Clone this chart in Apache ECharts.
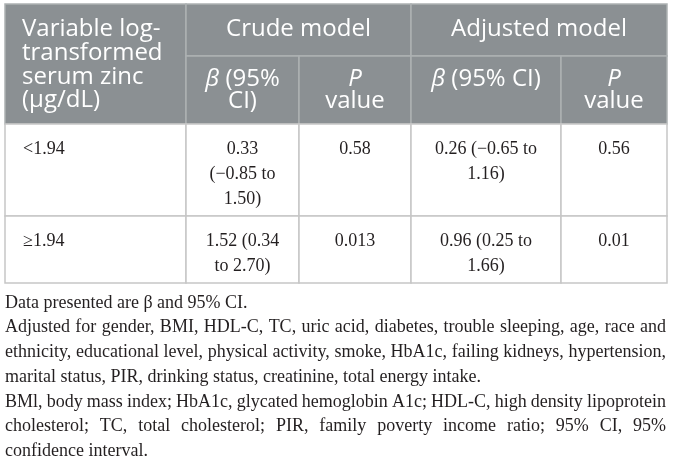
<!DOCTYPE html>
<html>
<head>
<meta charset="utf-8">
<script src="https://cdn.jsdelivr.net/npm/echarts@6/dist/echarts.min.js"></script>
<style>
html, body { margin: 0; padding: 0; background: #fff; }
#main { width: 673px; height: 460px; }
</style>
</head>
<body>
<div id="main"></div>
<script>
// table values
var groups = ['<1.94', '≥1.94'];
var crudeBeta = [0.33, 1.52];
var crudeLow = [-0.85, 0.34];
var crudeHigh = [1.50, 2.70];
var crudeP = [0.58, 0.013];
var adjBeta = [0.26, 0.96];
var adjLow = [-0.65, 0.25];
var adjHigh = [1.16, 1.66];
var adjP = [0.56, 0.01];

var notes = [
	'Data presented are β and 95% CI.',
	'Adjusted for gender, BMI, HDL-C, TC, uric acid, diabetes, trouble sleeping, age, race and',
	'ethnicity, educational level, physical activity, smoke, HbA1c, failing kidneys, hypertension,',
	'marital status, PIR, drinking status, creatinine, total energy intake.',
	'BMl, body mass index; HbA1c, glycated hemoglobin A1c; HDL-C, high density lipoprotein',
	'cholesterol; TC, total cholesterol; PIR, family poverty income ratio; 95% CI, 95%',
	'confidence interval.'
];
var noteJustify = [false, true, true, false, true, true, false];

// layout
var X = [5, 186, 299, 411, 561, 667];
var Y = [4, 56, 124, 216, 283];
var HEAD_BG = '#8b9093';
var HEAD_LINE = '#adb1b3';
var BODY_LINE = '#c6c6c6';
var SANS = '"Open Sans", sans-serif';
var SERIF = '"Liberation Serif", serif';
var TEXT_FONT = '18px "Liberation Serif"';

var ctx = document.createElement('canvas').getContext('2d');
ctx.font = TEXT_FONT;

function f2(v) {
	return (v < 0 ? '−' : '') + Math.abs(v).toFixed(2);
}
function ci(b, lo, hi) {
	return f2(b) + ' (' + f2(lo) + ' to ' + f2(hi) + ')';
}
// wrap at spaces only, so "(−0.85" stays together
function wrap(text, maxW) {
	var words = text.split(' ');
	var lines = [], cur = '';
	words.forEach(function (w) {
		var test = cur ? cur + ' ' + w : w;
		if (cur && ctx.measureText(test).width > maxW) {
			lines.push(cur);
			cur = w;
		} else {
			cur = test;
		}
	});
	if (cur) lines.push(cur);
	return lines.join('\n');
}

var cells = [];
function headCell(x0, x1, y0, y1, text, align, tx, ty, lh) {
	cells.push({x0: x0, x1: x1, y0: y0, y1: y1, text: text, align: align, tx: tx, ty: ty, lh: lh, head: true});
}
headCell(X[0], X[1], Y[0], Y[2], 'Variable log-\ntransformed\nserum zinc\n(μg/dL)', 'left', X[0] + 17, 29.5, 23.7);
headCell(X[1], X[3], Y[0], Y[1], 'Crude model', 'center', (X[1] + X[3]) / 2, 29.5, 24);
headCell(X[3], X[5], Y[0], Y[1], 'Adjusted model', 'center', (X[3] + X[5]) / 2, 29.5, 24);
headCell(X[1], X[2], Y[1], Y[2], '{i|β} (95%\nCI)', 'center', (X[1] + X[2]) / 2, 79, 22.5);
headCell(X[2], X[3], Y[1], Y[2], '{i|P}\nvalue', 'center', (X[2] + X[3]) / 2, 79, 22.5);
headCell(X[3], X[4], Y[1], Y[2], '{i|β} (95% CI)', 'center', (X[3] + X[4]) / 2, 79, 22.5);
headCell(X[4], X[5], Y[1], Y[2], '{i|P}\nvalue', 'center', (X[4] + X[5]) / 2, 79, 22.5);

for (var r = 0; r < groups.length; r++) {
	var y0 = Y[2 + r], y1 = Y[3 + r];
	var row = [
		groups[r],
		wrap(ci(crudeBeta[r], crudeLow[r], crudeHigh[r]), 80),
		String(crudeP[r]),
		wrap(ci(adjBeta[r], adjLow[r], adjHigh[r]), 120),
		String(adjP[r])
	];
	for (var c = 0; c < row.length; c++) {
		cells.push({
			x0: X[c], x1: X[c + 1], y0: y0, y1: y1,
			text: row[c], align: c === 0 ? 'left' : 'center',
			tx: c === 0 ? X[0] + 18 : (X[c] + X[c + 1]) / 2,
			ty: y0 + 25, lh: 25, head: false
		});
	}
}

// footnotes, justified like the source
var noteEls = [];
notes.forEach(function (line, i) {
	var y = 303 + i * 24.7;
	if (!noteJustify[i]) {
		noteEls.push({type: 'text', x: 5, y: y, silent: true,
			style: {text: line, font: TEXT_FONT, fill: '#231f20', verticalAlign: 'middle'}});
		return;
	}
	var words = line.split(' ');
	var widths = words.map(function (w) { return ctx.measureText(w).width; });
	var total = widths.reduce(function (a, b) { return a + b; }, 0);
	var gap = (666 - 5 - total) / (words.length - 1);
	var x = 5;
	words.forEach(function (w, k) {
		noteEls.push({type: 'text', x: x, y: y, silent: true,
			style: {text: w, font: TEXT_FONT, fill: '#231f20', verticalAlign: 'middle'}});
		x += widths[k] + gap;
	});
});

var myChart = echarts.init(document.getElementById('main'));
var option = {
	animation: false,
	grid: {left: 0, right: 0, top: 0, bottom: 0},
	xAxis: {type: 'value', min: 0, max: 673, show: false},
	yAxis: {type: 'value', min: 0, max: 460, inverse: true, show: false},
	graphic: noteEls,
	series: [{
		type: 'custom',
		silent: true,
		clip: false,
		data: cells.map(function (c) { return [c.x0, c.y0, c.x1, c.y1]; }),
		encode: {x: [0, 2], y: [1, 3]},
		renderItem: function (params, api) {
			var c = cells[params.dataIndex];
			var p0 = api.coord([api.value(0), api.value(1)]);
			var p1 = api.coord([api.value(2), api.value(3)]);
			var pt = api.coord([c.tx, c.ty]);
			var style = {
				text: c.text,
				fill: c.head ? '#ffffff' : '#231f20',
				align: c.align,
				verticalAlign: 'top',
				lineHeight: c.lh
			};
			if (c.head) {
				style.fontFamily = SANS;
				style.fontSize = 24;
				style.rich = {i: {fontFamily: SANS, fontSize: 24, fontStyle: 'italic', lineHeight: c.lh, fill: '#ffffff'}};
			} else {
				style.fontFamily = SERIF;
				style.fontSize = 18;
			}
			return {
				type: 'group',
				children: [{
					type: 'rect',
					shape: {x: p0[0], y: p0[1], width: p1[0] - p0[0], height: p1[1] - p0[1]},
					style: {fill: c.head ? HEAD_BG : '#ffffff', stroke: c.head ? HEAD_LINE : BODY_LINE, lineWidth: 1.5}
				}, {
					type: 'text',
					x: pt[0],
					y: pt[1] - c.lh / 2,
					style: style
				}]
			};
		}
	}]
};
myChart.setOption(option);
</script>
</body>
</html>
